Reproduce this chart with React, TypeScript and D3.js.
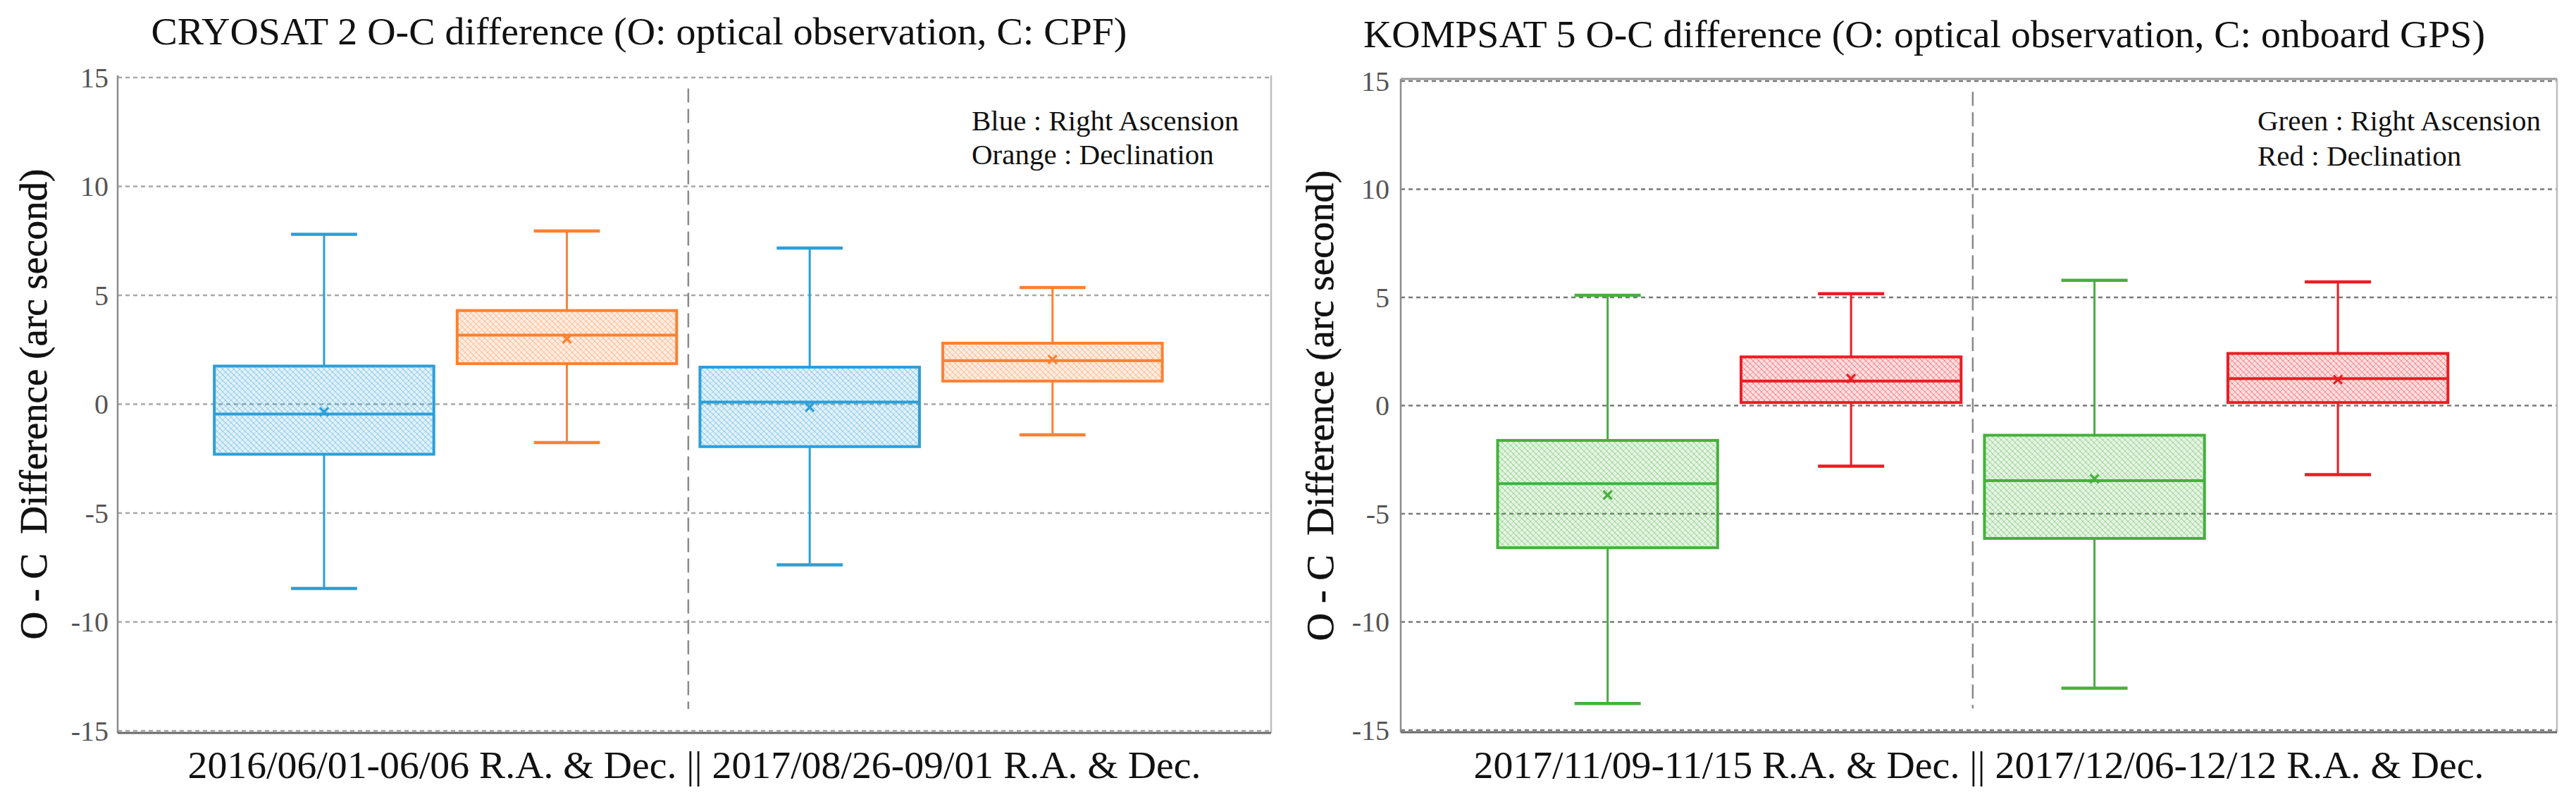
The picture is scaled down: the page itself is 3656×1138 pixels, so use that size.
import React, { useEffect, useRef } from "react";
import * as d3 from "d3";

// ---- data ----
const yTicks = [-15, -10, -5, 0, 5, 10, 15];
const positions = [1, 2, 3, 4];

// CRYOSAT 2: RA / Dec for 2016/06/01-06/06 then 2017/08/26-09/01
const cryoMax = [7.8, 7.95, 7.17, 5.36];
const cryoQ3 = [1.75, 4.3, 1.7, 2.8];
const cryoMedian = [-0.45, 3.17, 0.1, 2.0];
const cryoMean = [-0.35, 3.0, -0.14, 2.05];
const cryoQ1 = [-2.3, 1.86, -1.95, 1.06];
const cryoMin = [-8.46, -1.76, -7.38, -1.41];

// KOMPSAT 5: RA / Dec for 2017/11/09-11/15 then 2017/12/06-12/12
const kompMax = [5.1, 5.17, 5.79, 5.72];
const kompQ3 = [-1.61, 2.25, -1.37, 2.41];
const kompMedian = [-3.61, 1.13, -3.47, 1.25];
const kompMean = [-4.13, 1.25, -3.38, 1.2];
const kompQ1 = [-6.57, 0.14, -6.14, 0.14];
const kompMin = [-13.77, -2.8, -13.06, -3.19];

const cryoColors = ["#2b9fd9", "#fb8132", "#2b9fd9", "#fb8132"];
const kompColors = ["#45b03c", "#ec1c24", "#45b03c", "#ec1c24"];

const cryoTitle = "CRYOSAT 2 O-C difference (O: optical observation, C: CPF)";
const kompTitle = "KOMPSAT 5 O-C difference (O: optical observation, C: onboard GPS)";
const cryoXLabel = "2016/06/01-06/06 R.A. & Dec. || 2017/08/26-09/01 R.A. & Dec.";
const kompXLabel = "2017/11/09-11/15 R.A. & Dec. || 2017/12/06-12/12 R.A. & Dec.";
const cryoLegend = ["Blue : Right Ascension", "Orange : Declination"];
const kompLegend = ["Green : Right Ascension", "Red : Declination"];
const yLabel = "O - C  Difference (arc second)";

const FONT = "'Liberation Serif', 'Times New Roman', serif";

interface PanelSpec {
  id: string;
  x0: number;
  x1: number;
  y0: number;
  y1: number;
  title: string;
  titleX: number;
  titleY: number;
  titleLen: number;
  xLabel: string;
  xLabelLen: number;
  legend: string[];
  legendY: number[];
  colors: string[];
  max: number[];
  q3: number[];
  median: number[];
  mean: number[];
  q1: number[];
  min: number[];
  grid: string;
  tickGap: number;
}

const panels: PanelSpec[] = [
  {
    id: "cryo",
    x0: 167, x1: 1804, y0: 110, y1: 1037,
    title: cryoTitle, titleX: 907, titleY: 63, titleLen: 1385,
    xLabel: cryoXLabel, xLabelLen: 1438,
    legend: cryoLegend, legendY: [185, 233],
    colors: cryoColors,
    max: cryoMax, q3: cryoQ3, median: cryoMedian, mean: cryoMean, q1: cryoQ1, min: cryoMin,
    grid: "#a8a8a8", tickGap: 13,
  },
  {
    id: "komp",
    x0: 1988, x1: 3629, y0: 115, y1: 1036,
    title: kompTitle, titleX: 2731, titleY: 67, titleLen: 1592,
    xLabel: kompXLabel, xLabelLen: 1434,
    legend: kompLegend, legendY: [185, 235],
    colors: kompColors,
    max: kompMax, q3: kompQ3, median: kompMedian, mean: kompMean, q1: kompQ1, min: kompMin,
    grid: "#7a7a7a", tickGap: 16,
  },
];

export default function App() {
  const ref = useRef<SVGSVGElement>(null);

  useEffect(() => {
    document.body.style.margin = "0";
    document.body.style.overflow = "hidden";
    if (!ref.current) return;
    const svg = d3.select(ref.current);
    svg.selectAll("*").remove();

    // cross-hatch fill, one per colour
    const defs = svg.append("defs");
    const uniq = Array.from(new Set([...cryoColors, ...kompColors]));
    uniq.forEach((c) => {
      const p = defs
        .append("pattern")
        .attr("id", "hatch" + c.slice(1))
        .attr("patternUnits", "userSpaceOnUse")
        .attr("width", 8)
        .attr("height", 8);
      p.append("rect").attr("width", 8).attr("height", 8).attr("fill", c).attr("fill-opacity", 0.14);
      p.append("path").attr("d", "M0,0 L8,8 M-2,6 L2,10 M6,-2 L10,2").attr("stroke", c).attr("stroke-opacity", 0.42).attr("stroke-width", 1.2);
      p.append("path").attr("d", "M0,8 L8,0 M-2,2 L2,-2 M6,10 L10,6").attr("stroke", c).attr("stroke-opacity", 0.32).attr("stroke-width", 1);
    });

    panels.forEach((pn) => {
      const g = svg.append("g");
      const x = d3.scaleLinear().domain([0.15, 4.9]).range([pn.x0, pn.x1]);
      const y = d3.scaleLinear().domain([-15, 15]).range([pn.y1, pn.y0]);
      const unit = x(1) - x(0);
      const boxHalf = 0.452 * unit;
      const capHalf = 0.136 * unit;

      // grid
      g.append("g")
        .selectAll("line")
        .data(yTicks)
        .join("line")
        .attr("x1", pn.x0)
        .attr("x2", pn.x1)
        .attr("y1", (d) => y(d))
        .attr("y2", (d) => y(d))
        .attr("stroke", pn.grid)
        .attr("stroke-width", 2.5)
        .attr("stroke-dasharray", "6,5");

      // frame
      g.append("line").attr("x1", pn.x0).attr("x2", pn.x0).attr("y1", pn.y0 - 3).attr("y2", pn.y1 + 3)
        .attr("stroke", "#8c8c8c").attr("stroke-width", 2.5);
      g.append("line").attr("x1", pn.x1).attr("x2", pn.x1).attr("y1", pn.y0 - 3).attr("y2", pn.y1 + 3)
        .attr("stroke", "#bdbdbd").attr("stroke-width", 2.5);
      g.append("line").attr("x1", pn.x0).attr("x2", pn.x1).attr("y1", pn.y1 + 3).attr("y2", pn.y1 + 3)
        .attr("stroke", "#6a6a6a").attr("stroke-width", 3);
      if (pn.id === "komp") {
        g.append("line").attr("x1", pn.x0).attr("x2", pn.x1).attr("y1", pn.y0 - 3).attr("y2", pn.y0 - 3)
          .attr("stroke", "#9a9a9a").attr("stroke-width", 3);
      }

      // divider between the two periods
      g.append("line")
        .attr("x1", x(2.5))
        .attr("x2", x(2.5))
        .attr("y1", y(14.5))
        .attr("y2", y(-14))
        .attr("stroke", "#8a8a8a")
        .attr("stroke-width", 2.5)
        .attr("stroke-dasharray", "20,9");

      // y tick labels
      g.append("g")
        .selectAll("text")
        .data(yTicks)
        .join("text")
        .attr("x", pn.x0 - pn.tickGap)
        .attr("y", (d) => y(d))
        .attr("text-anchor", "end")
        .attr("dominant-baseline", "central")
        .attr("font-family", FONT)
        .attr("font-size", 40)
        .attr("fill", "#555")
        .text((d) => String(d));

      // boxes
      positions.forEach((pos, i) => {
        const c = pn.colors[i];
        const cx = x(pos);
        const b = g.append("g");
        // whiskers
        b.append("line").attr("x1", cx).attr("x2", cx).attr("y1", y(pn.max[i])).attr("y2", y(pn.q3[i]))
          .attr("stroke", c).attr("stroke-width", 3);
        b.append("line").attr("x1", cx).attr("x2", cx).attr("y1", y(pn.q1[i])).attr("y2", y(pn.min[i]))
          .attr("stroke", c).attr("stroke-width", 3);
        [pn.max[i], pn.min[i]].forEach((v) => {
          b.append("line").attr("x1", cx - capHalf).attr("x2", cx + capHalf).attr("y1", y(v)).attr("y2", y(v))
            .attr("stroke", c).attr("stroke-width", 4.5);
        });
        // box
        b.append("rect")
          .attr("x", cx - boxHalf)
          .attr("y", y(pn.q3[i]))
          .attr("width", boxHalf * 2)
          .attr("height", y(pn.q1[i]) - y(pn.q3[i]))
          .attr("fill", `url(#hatch${c.slice(1)})`)
          .attr("stroke", c)
          .attr("stroke-width", 4);
        // median
        b.append("line").attr("x1", cx - boxHalf).attr("x2", cx + boxHalf)
          .attr("y1", y(pn.median[i])).attr("y2", y(pn.median[i]))
          .attr("stroke", c).attr("stroke-width", 4);
        // mean marker
        const my = y(pn.mean[i]);
        const s = 6;
        b.append("path")
          .attr("d", `M${cx - s},${my - s}L${cx + s},${my + s}M${cx - s},${my + s}L${cx + s},${my - s}`)
          .attr("stroke", c)
          .attr("stroke-width", 3.2);
      });

      // legend
      pn.legend.forEach((t, k) => {
        g.append("text")
          .attr("x", pn.x1 - 425)
          .attr("y", pn.legendY[k])
          .attr("font-family", FONT)
          .attr("font-size", 41)
          .attr("fill", "#111")
          .text(t);
      });

      // title
      g.append("text")
        .attr("x", pn.titleX)
        .attr("y", pn.titleY)
        .attr("text-anchor", "middle")
        .attr("font-family", FONT)
        .attr("font-size", 55)
        .attr("fill", "#111")
        .attr("textLength", pn.titleLen)
        .attr("lengthAdjust", "spacingAndGlyphs")
        .text(pn.title);

      // x label
      g.append("text")
        .attr("x", (pn.x0 + pn.x1) / 2)
        .attr("y", 1104)
        .attr("text-anchor", "middle")
        .attr("font-family", FONT)
        .attr("font-size", 55)
        .attr("fill", "#111")
        .attr("textLength", pn.xLabelLen)
        .attr("lengthAdjust", "spacingAndGlyphs")
        .text(pn.xLabel);

      // y label
      const ly = (pn.y0 + pn.y1) / 2;
      const lx = pn.x0 - (pn.id === "cryo" ? 120 : 115);
      g.append("text")
        .attr("transform", `translate(${lx},${ly}) rotate(-90)`)
        .attr("text-anchor", "middle")
        .attr("dominant-baseline", "central")
        .attr("font-family", FONT)
        .attr("font-size", 55)
        .attr("fill", "#111")
        .attr("stroke", "#111")
        .attr("stroke-width", 0.6)
        .style("white-space", "pre")
        .text(yLabel);
    });
  }, []);

  return (
    <svg
      ref={ref}
      width={3656}
      height={1138}
      viewBox="0 0 3656 1138"
      style={{ display: "block", background: "#fff" }}
    />
  );
}
